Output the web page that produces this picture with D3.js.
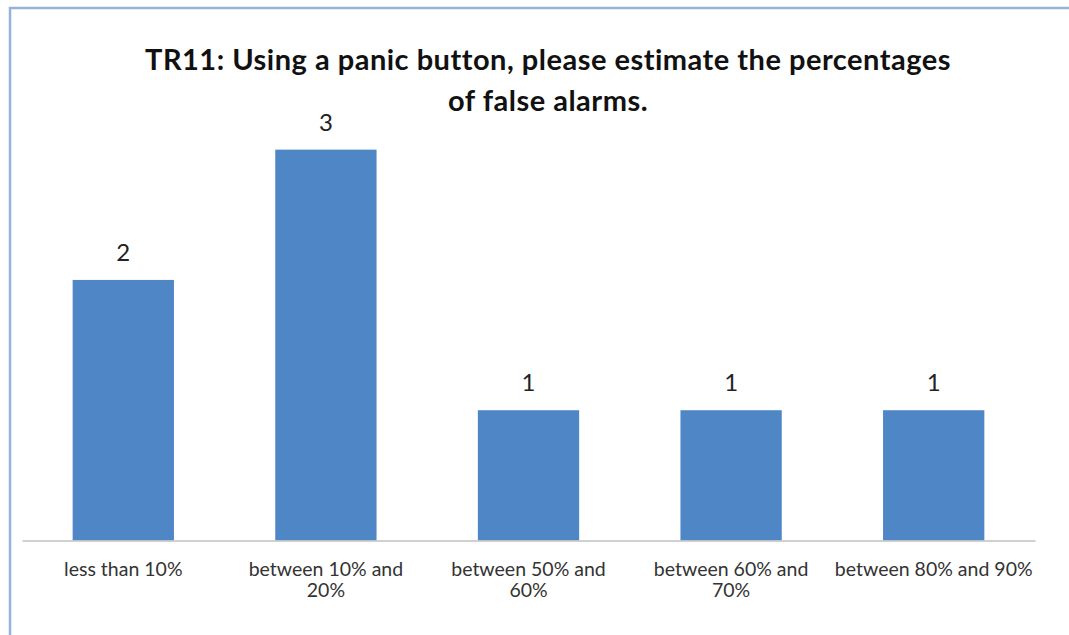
<!DOCTYPE html>
<html>
<head>
<meta charset="utf-8">
<script src="https://cdn.jsdelivr.net/npm/d3@7"></script>
<style>
  html, body { margin: 0; padding: 0; background: #fff; }
  svg { display: block; }
</style>
</head>
<body>
<svg id="chart" width="1069" height="635"></svg>
<script>
// Survey answers: counts per estimated false-alarm range
const categories = [
  "less than 10%",
  "between 10% and\n20%",
  "between 50% and\n60%",
  "between 60% and\n70%",
  "between 80% and 90%"
];
const counts = [2, 3, 1, 1, 1];
const titleLines = [
  "TR11: Using a panic button, please estimate the percentages",
  "of false alarms."
];

const W = 1069, H = 635;
const svg = d3.select("#chart");

// Chart frame (top and left edges)
svg.append("path")
  .attr("d", `M10,${H} L10,8 L${W},8`)
  .attr("fill", "none")
  .attr("stroke", "#95b3d7")
  .attr("stroke-width", 2.5);

const plot = { left: 22, right: 1035, top: 84.5, bottom: 540.5 };

const x = d3.scaleBand()
  .domain(categories)
  .range([plot.left, plot.right])
  .paddingInner(0.5)
  .paddingOuter(0.25);

const y = d3.scaleLinear()
  .domain([0, 3.5])
  .range([plot.bottom, plot.top]);

// Bars
svg.append("g")
  .selectAll("rect")
  .data(counts)
  .join("rect")
  .attr("x", (d, i) => x(categories[i]))
  .attr("y", d => y(d))
  .attr("width", x.bandwidth())
  .attr("height", d => y(0) - y(d))
  .attr("fill", "#4f87c6");

// Value labels above bars
svg.append("g")
  .selectAll("text")
  .data(counts)
  .join("text")
  .attr("x", (d, i) => x(categories[i]) + x.bandwidth() / 2)
  .attr("y", d => y(d) - 19)
  .attr("text-anchor", "middle")
  .attr("font-family", "Lato, 'Open Sans', sans-serif")
  .attr("font-size", 24)
  .attr("fill", "#222")
  .text(d => d);

// Category axis
const xAxis = svg.append("g")
  .attr("transform", `translate(0,${plot.bottom})`)
  .call(d3.axisBottom(x).tickSize(0).tickFormat(""));
xAxis.select(".domain").attr("stroke", "#c0c0c0").attr("stroke-width", 1.5);

const catLabels = svg.append("g")
  .selectAll("text")
  .data(categories)
  .join("text")
  .attr("x", d => x(d) + x.bandwidth() / 2)
  .attr("y", 576)
  .attr("text-anchor", "middle")
  .attr("font-family", "Lato, 'Open Sans', sans-serif")
  .attr("font-size", 19.5)
  .attr("fill", "#333");
catLabels.selectAll("tspan")
  .data(d => d.split("\n"))
  .join("tspan")
  .attr("x", function () { return d3.select(this.parentNode).attr("x"); })
  .attr("dy", (d, i) => i === 0 ? 0 : 21)
  .text(d => d);

// Title
svg.append("g")
  .selectAll("text")
  .data(titleLines)
  .join("text")
  .attr("x", 548)
  .attr("y", (d, i) => 70 + i * 41)
  .attr("text-anchor", "middle")
  .attr("font-family", "Lato, 'Open Sans', sans-serif")
  .attr("font-weight", "bold")
  .attr("font-size", 29)
  .attr("letter-spacing", 0.5)
  .attr("fill", "#111")
  .text(d => d);
</script>
</body>
</html>
